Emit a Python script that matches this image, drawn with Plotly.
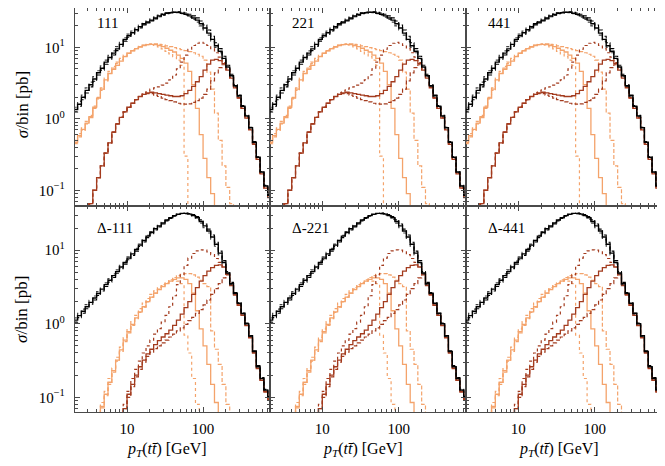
import numpy as np
import plotly.graph_objects as go
from plotly.subplots import make_subplots

# log-spaced pT bins, 20 per decade, 2 GeV .. 794 GeV
bin_edges = 10 ** np.arange(0.3, 2.9001, 0.05)

top_labels = ["111", "221", "441"]
bottom_labels = ["Δ-111", "Δ-221", "Δ-441"]

# ---- top row (111 / 221 / 441) ----
top_black_solid = [1.35, 1.6, 2.0, 2.5, 3.0, 3.6, 4.4, 5.1, 6.2, 7.2, 8.3, 9.5, 11, 12.9, 14.5, 16, 17.6, 19.5, 21.4, 22.6,
                   24, 25.7, 27.5, 28.8, 30, 30.5, 31, 31, 30, 29, 27.5, 25.7, 24, 21.4, 18.6, 15.8, 12.9, 10.5, 8.8, 7.0,
                   5.3, 4.0, 2.9, 2.1, 1.5, 1.1, 0.75, 0.47, 0.29, 0.18, 0.115, 0.085]
top_black_dot = [1.45, 1.75, 2.15, 2.7, 3.25, 3.9, 4.7, 5.5, 6.6, 7.7, 8.9, 10.2, 11.7, 13.6, 15.3, 16.9, 18.5, 20.4, 22.2, 23.5,
                 25, 26.6, 28.2, 29.5, 30.5, 31, 31, 30.5, 29.5, 28.2, 26.5, 24.5, 22.5, 20, 17.5, 14.8, 12.2, 10, 8.4, 6.8,
                 5.2, 3.9, 2.85, 2.05, 1.47, 1.08, 0.74, 0.46, 0.285, 0.178, 0.114, 0.085]
top_black_dash = [1.25, 1.5, 1.85, 2.3, 2.8, 3.35, 4.1, 4.8, 5.8, 6.8, 7.8, 9.0, 10.4, 12.2, 13.8, 15.3, 16.9, 18.7, 20.6, 22,
                  23.4, 25, 26.8, 28.2, 29.5, 30.2, 31, 31.3, 31, 30.2, 29, 27.5, 25.8, 23.3, 20.5, 17.5, 14.3, 11.6, 9.6, 7.5,
                  5.6, 4.2, 3.0, 2.15, 1.53, 1.12, 0.76, 0.48, 0.295, 0.182, 0.117, 0.087]
top_orange_solid = [0.47, 0.58, 0.71, 0.87, 1.07, 1.45, 1.95, 2.6, 3.5, 4.3, 4.9, 5.6, 6.4, 7.4, 8.3, 9.0, 9.6, 10.1, 10.6, 10.9,
                    11, 10.9, 10.6, 10.2, 9.7, 9.1, 8.6, 7.8, 7.0, 6.0, 4.6, 3.0, 1.4, 0.6, 0.28, 0.15, 0.09, 0.06, 0.035, 0.01,
                    0.01, 0.01, 0.01, 0.01, 0.01, 0.01, 0.01, 0.01, 0.01, 0.01, 0.01, 0.01]
top_orange_dot = [0.5, 0.62, 0.75, 0.92, 1.12, 1.5, 2.0, 2.7, 3.7, 4.6, 5.4, 6.2, 7.0, 7.8, 8.5, 9.2, 9.8, 10.3, 10.7, 10.9,
                  10.9, 10.6, 10.1, 9.5, 8.8, 8.1, 7.4, 6.6, 5.6, 0.3, 0.06, 0.01, 0.01, 0.01, 0.01, 0.01, 0.01, 0.01, 0.01, 0.01,
                  0.01, 0.01, 0.01, 0.01, 0.01, 0.01, 0.01, 0.01, 0.01, 0.01, 0.01, 0.01]
top_orange_dash = [0.45, 0.56, 0.69, 0.85, 1.04, 1.4, 1.9, 2.5, 3.4, 4.3, 5.1, 5.9, 6.7, 7.5, 8.2, 8.9, 9.6, 10.2, 10.7, 11.0,
                   11.2, 11.2, 11.0, 10.8, 10.5, 10.2, 9.9, 9.6, 9.3, 9.0, 8.7, 8.4, 8.0, 7.5, 6.6, 4.5, 2.6, 1.2, 0.5, 0.22,
                   0.11, 0.065, 0.035, 0.01, 0.01, 0.01, 0.01, 0.01, 0.01, 0.01, 0.01, 0.01]
top_dark_solid = [0.01, 0.01, 0.03, 0.045, 0.065, 0.1, 0.15, 0.22, 0.33, 0.46, 0.65, 0.85, 1.05, 1.25, 1.45, 1.65, 1.85, 2.05, 2.2, 2.3,
                  2.35, 2.3, 2.25, 2.2, 2.15, 2.1, 2.05, 2.05, 2.1, 2.25, 2.5, 2.85, 3.3, 3.9, 4.8, 5.8, 6.6, 6.8, 6.5, 5.9,
                  4.8, 3.7, 2.7, 1.95, 1.4, 1.02, 0.7, 0.44, 0.27, 0.17, 0.107, 0.079]
top_dark_dot = [0.01, 0.01, 0.03, 0.045, 0.065, 0.1, 0.15, 0.22, 0.33, 0.46, 0.65, 0.85, 1.05, 1.25, 1.45, 1.65, 1.85, 2.05, 2.3, 2.45,
                2.6, 2.7, 2.8, 2.95, 3.15, 3.5, 4.1, 5.0, 6.2, 7.8, 9.4, 10.6, 11.4, 11.7, 11.4, 10.6, 9.6, 8.4, 7.3, 6.1,
                4.9, 3.75, 2.75, 1.98, 1.42, 1.04, 0.71, 0.45, 0.275, 0.172, 0.108, 0.08]
top_dark_dash = [0.01, 0.01, 0.03, 0.045, 0.065, 0.1, 0.15, 0.22, 0.33, 0.46, 0.65, 0.85, 1.05, 1.25, 1.45, 1.65, 1.85, 2.05, 2.2, 2.25,
                 2.25, 2.15, 2.05, 1.95, 1.85, 1.8, 1.72, 1.65, 1.62, 1.6, 1.62, 1.7, 1.8, 1.95, 2.2, 2.6, 3.4, 4.4, 5.2, 5.7,
                 5.0, 3.8, 2.75, 1.98, 1.42, 1.04, 0.71, 0.45, 0.275, 0.172, 0.108, 0.08]

# ---- bottom row (Δ-111 / Δ-221 / Δ-441) ----
bot_black_solid = [1.12, 1.29, 1.48, 1.7, 1.95, 2.24, 2.57, 2.95, 3.4, 3.9, 4.5, 5.1, 5.9, 6.8, 7.8, 8.9, 10.2, 11.7, 13.5, 15.5,
                   17.4, 19.5, 21.4, 23.4, 25.7, 27.5, 29.5, 30.9, 31.6, 31.6, 30.9, 29.5, 27.5, 24.5, 21.4, 18.2, 15.1, 12, 9.1, 6.8,
                   4.9, 3.5, 2.6, 1.9, 1.38, 1.0, 0.68, 0.42, 0.26, 0.18, 0.125, 0.1]
bot_black_dot = [1.2, 1.38, 1.58, 1.82, 2.08, 2.38, 2.73, 3.13, 3.6, 4.1, 4.75, 5.4, 6.2, 7.1, 8.1, 9.3, 10.6, 12.1, 13.9, 15.9,
                 17.8, 19.9, 21.8, 23.8, 26, 27.8, 29.6, 30.8, 31.3, 31, 30.1, 28.5, 26.3, 23.3, 20.2, 17.1, 14.1, 11.3, 8.6, 6.5,
                 4.75, 3.4, 2.55, 1.87, 1.36, 0.99, 0.67, 0.42, 0.26, 0.18, 0.125, 0.1]
bot_black_dash = [1.05, 1.21, 1.39, 1.6, 1.84, 2.1, 2.42, 2.78, 3.2, 3.68, 4.25, 4.85, 5.6, 6.45, 7.4, 8.5, 9.7, 11.2, 12.9, 14.8,
                  16.7, 18.8, 20.7, 22.7, 25, 26.9, 28.9, 30.5, 31.5, 31.9, 31.5, 30.4, 28.6, 25.8, 22.7, 19.3, 16.1, 12.8, 9.7, 7.2,
                  5.1, 3.65, 2.65, 1.93, 1.4, 1.02, 0.69, 0.43, 0.27, 0.185, 0.128, 0.102]
bot_orange_solid = [0.01, 0.01, 0.01, 0.01, 0.015, 0.03, 0.05, 0.075, 0.11, 0.16, 0.23, 0.32, 0.44, 0.6, 0.78, 0.98, 1.2, 1.45, 1.7, 2.0,
                    2.3, 2.6, 2.9, 3.2, 3.5, 3.8, 4.0, 4.2, 4.2, 4.0, 3.5, 2.6, 1.5, 0.85, 0.5, 0.28, 0.15, 0.085, 0.05, 0.01,
                    0.01, 0.01, 0.01, 0.01, 0.01, 0.01, 0.01, 0.01, 0.01, 0.01, 0.01, 0.01]
bot_orange_dot = [0.01, 0.01, 0.01, 0.01, 0.018, 0.035, 0.055, 0.085, 0.12, 0.18, 0.25, 0.35, 0.48, 0.65, 0.85, 1.07, 1.3, 1.6, 1.9, 2.2,
                  2.5, 2.8, 3.1, 3.4, 3.6, 3.8, 3.9, 3.8, 3.5, 0.7, 0.4, 0.18, 0.08, 0.01, 0.01, 0.01, 0.01, 0.01, 0.01, 0.01,
                  0.01, 0.01, 0.01, 0.01, 0.01, 0.01, 0.01, 0.01, 0.01, 0.01, 0.01, 0.01]
bot_orange_dash = [0.01, 0.01, 0.01, 0.01, 0.014, 0.03, 0.048, 0.072, 0.105, 0.15, 0.22, 0.31, 0.42, 0.57, 0.75, 0.95, 1.17, 1.42, 1.68, 1.98,
                   2.3, 2.6, 2.95, 3.3, 3.6, 3.95, 4.25, 4.5, 4.7, 4.8, 4.8, 4.6, 4.3, 3.9, 3.5, 3.2, 0.8, 0.45, 0.28, 0.15,
                   0.08, 0.045, 0.01, 0.01, 0.01, 0.01, 0.01, 0.01, 0.01, 0.01, 0.01, 0.01]
bot_dark_solid = [0.01, 0.01, 0.01, 0.01, 0.01, 0.01, 0.01, 0.01, 0.01, 0.01, 0.01, 0.01, 0.04, 0.07, 0.11, 0.15, 0.2, 0.26, 0.32, 0.39,
                  0.45, 0.52, 0.59, 0.66, 0.73, 0.82, 0.95, 1.12, 1.35, 1.65, 2.0, 2.5, 3.1, 3.8, 4.5, 5.2, 5.8, 6.2, 6.3, 5.9,
                  4.7, 3.3, 2.45, 1.78, 1.3, 0.94, 0.64, 0.4, 0.245, 0.17, 0.118, 0.094]
bot_dark_dot = [0.01, 0.01, 0.01, 0.01, 0.01, 0.01, 0.01, 0.01, 0.01, 0.01, 0.01, 0.01, 0.045, 0.08, 0.12, 0.18, 0.24, 0.31, 0.4, 0.5,
                0.6, 0.72, 0.86, 1.05, 1.3, 1.7, 2.4, 3.4, 4.6, 6.2, 7.8, 9.0, 9.8, 10.1, 10.0, 9.5, 8.7, 7.7, 6.8, 5.9,
                4.75, 3.35, 2.5, 1.8, 1.3, 0.95, 0.65, 0.41, 0.25, 0.172, 0.12, 0.095]
bot_dark_dash = [0.01, 0.01, 0.01, 0.01, 0.01, 0.01, 0.01, 0.01, 0.01, 0.01, 0.01, 0.01, 0.04, 0.07, 0.1, 0.14, 0.19, 0.24, 0.3, 0.36,
                 0.41, 0.46, 0.5, 0.55, 0.6, 0.66, 0.72, 0.8, 0.88, 0.98, 1.1, 1.22, 1.38, 1.55, 1.8, 2.1, 2.5, 3.0, 3.5, 4.2,
                 4.6, 3.4, 2.5, 1.8, 1.32, 0.96, 0.65, 0.41, 0.25, 0.17, 0.12, 0.095]

ORANGE = "#f4a36b"
DARK = "#a33b1e"
BLACK = "#000000"
FONT = "Liberation Serif"

# (values, colour, dash, width) - orange first, black last so it sits on top
top_curves = [
    (top_orange_dot, ORANGE, "dot", 1.2), (top_orange_dash, ORANGE, "4px,2px", 1.2), (top_orange_solid, ORANGE, "solid", 1.3),
    (top_dark_dot, DARK, "dot", 1.2), (top_dark_dash, DARK, "4px,2px", 1.2), (top_dark_solid, DARK, "solid", 1.3),
    (top_black_dot, "#444444", "dot", 1.2), (top_black_dash, BLACK, "4px,2px", 1.1), (top_black_solid, BLACK, "solid", 1.4),
]
bottom_curves = [
    (bot_orange_dot, ORANGE, "dot", 1.2), (bot_orange_dash, ORANGE, "4px,2px", 1.2), (bot_orange_solid, ORANGE, "solid", 1.3),
    (bot_dark_dot, DARK, "dot", 1.2), (bot_dark_dash, DARK, "4px,2px", 1.2), (bot_dark_solid, DARK, "solid", 1.3),
    (bot_black_dot, "#444444", "dot", 1.2), (bot_black_dash, BLACK, "4px,2px", 1.1), (bot_black_solid, BLACK, "solid", 1.4),
]


def step_y(vals):
    # hv step needs the last value repeated at the final edge
    return list(vals) + [vals[-1]]


fig = make_subplots(rows=2, cols=3, horizontal_spacing=0, vertical_spacing=0)

for row, curves in ((1, top_curves), (2, bottom_curves)):
    for col in (1, 2, 3):
        for vals, color, dash, width in curves:
            fig.add_trace(go.Scatter(x=bin_edges, y=step_y(vals), mode="lines",
                                     line=dict(shape="hv", color=color, dash=dash, width=width),
                                     showlegend=False, hoverinfo="skip"), row=row, col=col)

x_minor = [3, 4, 5, 6, 7, 8, 9, 20, 30, 40, 50, 60, 70, 80, 90, 200, 300, 400, 500, 600, 700]
y_minor = [0.07, 0.08, 0.09, 0.2, 0.3, 0.4, 0.5, 0.6, 0.7, 0.8, 0.9, 2, 3, 4, 5, 6, 7, 8, 9, 20, 30]
frame = "#4a4a4a"

fig.update_xaxes(type="log", range=[0.316, 2.88], showgrid=False, zeroline=False,
                 showline=True, linecolor=frame, linewidth=1.3, mirror="allticks",
                 ticks="inside", ticklen=5, tickcolor=frame, tickwidth=1,
                 tickvals=[10, 100], ticktext=["10", "100"], ticklabelstandoff=3,
                 minor=dict(ticks="inside", ticklen=3, tickcolor=frame, tickvals=x_minor, showgrid=False),
                 tickfont=dict(family=FONT, size=15, color="black"))
fig.update_yaxes(type="log", showgrid=False, zeroline=False,
                 showline=True, linecolor=frame, linewidth=1.3, mirror="allticks",
                 ticks="inside", ticklen=5, tickcolor=frame, tickwidth=1,
                 tickvals=[0.1, 1, 10], ticktext=["10<sup>−1</sup>", "10<sup>0</sup>", "10<sup>1</sup>"],
                 ticklabelstandoff=6,
                 minor=dict(ticks="inside", ticklen=3, tickcolor=frame, tickvals=y_minor, showgrid=False),
                 tickfont=dict(family=FONT, size=15, color="black"))

# the page adds an 8px body margin, so the figure is laid out 8px up/left of the target
x_domains = [[0, 0.3322], [0.3322, 0.6661], [0.6661, 1]]
row_split = 0.5099
for col in (1, 2, 3):
    for row in (1, 2):
        fig.update_xaxes(domain=x_domains[col - 1], showticklabels=(row == 2), row=row, col=col)
        fig.update_yaxes(domain=[row_split, 1] if row == 1 else [0, row_split],
                         range=[-1.22, 1.55] if row == 1 else [-1.2, 1.6],
                         showticklabels=(col == 1), row=row, col=col)

annotations = []
for i, lab in enumerate(top_labels + bottom_labels):
    n = "" if i == 0 else str(i + 1)
    annotations.append(dict(text=lab, xref=f"x{n} domain", yref=f"y{n} domain",
                            x=0.1, y=0.924 if i < 3 else 0.893, xanchor="left", yanchor="middle",
                            showarrow=False, font=dict(family=FONT, size=15, color="black")))
for yc in (0.762, 0.255):
    annotations.append(dict(text="<i>σ</i>/bin [pb]", xref="paper", yref="paper", x=-0.0903, y=yc,
                            xanchor="center", yanchor="middle", textangle=-90, showarrow=False,
                            font=dict(family=FONT, size=17, color="black")))
for xc in (0.157, 0.49, 0.824):
    annotations.append(dict(text="<i>p</i><sub><i>T</i></sub>(<i>tt̄</i>) [GeV]", xref="paper", yref="paper",
                            x=xc, y=-0.092, xanchor="center", yanchor="middle", showarrow=False,
                            font=dict(family=FONT, size=16, color="black")))

fig.update_layout(width=657, height=450, margin=dict(l=67, r=3, t=0, b=46),
                  paper_bgcolor="white", plot_bgcolor="white", annotations=annotations)

fig.write_html("out.html")
